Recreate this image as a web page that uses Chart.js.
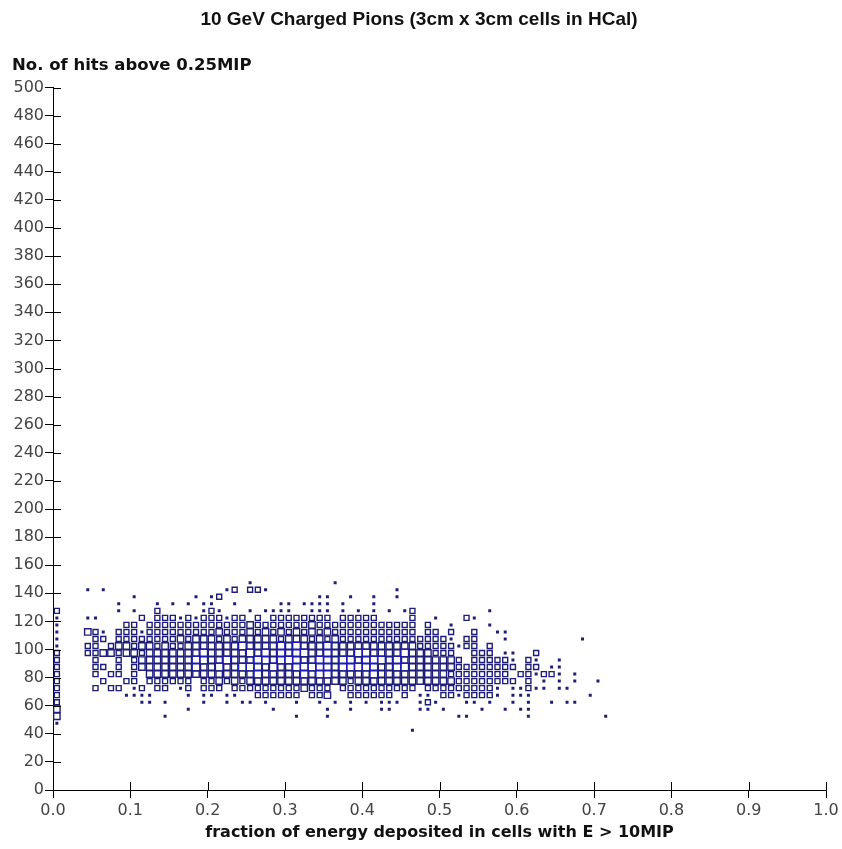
<!DOCTYPE html>
<html>
<head>
<meta charset="utf-8">
<script src="https://cdn.jsdelivr.net/npm/chart.js@4.4.1/dist/chart.umd.min.js"></script>
<style>
  html, body { margin: 0; padding: 0; background: #fff; }
  #c { display: block; }
</style>
</head>
<body>
<canvas id="c" width="842" height="849"></canvas>
<script>
// 2D histogram, bins of 0.01 (x) by 5 hits (y)
const xBinStart = 0.005;
const xBinWidth = 0.01;
const yBins = [147.5, 142.5, 137.5, 132.5, 127.5, 122.5, 117.5, 112.5, 107.5, 102.5, 97.5,
               92.5, 87.5, 82.5, 77.5, 72.5, 67.5, 62.5, 57.5, 52.5, 47.5, 42.5];

// relative bin content (0 = empty .. 4 = largest box), one char per x bin
const binRows = [
  "0000000000 0000000000 0000010000 0000001000 0000000000 0000000000 0000000000 00",
  "0000101000 0000000000 0012022100 0000000000 0000100000 0000000000 0000000000 00",
  "0000000000 1000000010 1200000000 0000110010 0100100000 0000000000 0000000000 00",
  "0000000010 0001010101 1001000001 1011110100 0100000000 0000000000 0000000000 00",
  "2000000010 1002000001 2100010111 1001110101 0101012000 0000001000 0000000000 00",
  "1000110000 0202221212 2212202022 2222220222 2200002001 0002100000 0000000000 00",
  "1000000002 2022222222 2222232222 2223222222 2222222020 0100001000 0000000000 00",
  "1000321022 2122222222 2322232323 2323232222 2222222022 0200200110 0000000000 00",
  "1000022022 2222223233 3232333332 3332323222 2222222222 2102200010 0000000010 00",
  "1000220233 2332322333 3333433334 3433343333 3333333222 2212202000 0000000000 00",
  "2000223323 3233333334 3333343434 3443343334 4333343332 2200222011 0020000000 00",
  "2000020020 2333333344 3343334434 4433443443 4443433333 3320222221 0210010000 00",
  "2000022020 2333333343 3433444343 3444443444 4433443333 3322222222 0220110000 00",
  "2000020220 2033333333 3333334333 3343443333 3433333333 3222222220 2212210100 00",
  "2000002002 2022222202 2323233333 3333333323 3333333333 3322222222 0201010100 10",
  "2000020220 1202201202 2202222222 2232220222 2222222022 2222222101 1211011000 00",
  "2000000001 1110000101 1011002222 2202230022 2222020110 2212222101 1100000001 00",
  "2000000000 0110100001 0010110100 0100101010 1011100121 0001101001 0100101100 00",
  "3000000000 0000000100 0000000010 0000010010 0011000110 1000010010 1100000000 00",
  "3000000000 0000100000 0000000000 0100010000 0000000000 0011000000 0100000000 01",
  "1000000000 0000000000 0000000000 0000000000 0000000000 0000000000 0000000000 00",
  "0000000000 0000000000 0000000000 0000000000 0000001000 0000000000 0000000000 00"
];

const titleText = '10 GeV Charged Pions (3cm x 3cm cells in HCal)';
const yTitle = 'No. of hits above 0.25MIP';
const xTitle = 'fraction of energy deposited in cells with E > 10MIP';

// build points from the rows
const points = [];
binRows.forEach((row, i) => {
  row.replace(/\s/g, '').split('').forEach((ch, k) => {
    const v = Number(ch);
    if (v > 0) points.push({ x: xBinStart + k * xBinWidth, y: yBins[i], v });
  });
});

// box side in px for each level
const sideFor = [0, 3, 5, 6.4, 7.6];
const boxColor = (v) => v >= 4 ? '#1c1cb4' : '#1e1e78';

const tickFont = { family: 'DejaVu Sans', size: 16 };
const tickColor = '#444';

// tick marks that cross the axis (inner half)
const crossTicks = {
  id: 'crossTicks',
  afterDraw(chart) {
    const { ctx, chartArea, scales: { x, y } } = chart;
    ctx.save();
    ctx.strokeStyle = '#000';
    ctx.lineWidth = 1;
    ctx.beginPath();
    x.ticks.forEach(t => {
      const px = Math.round(x.getPixelForValue(t.value)) + 0.5;
      ctx.moveTo(px, chartArea.bottom);
      ctx.lineTo(px, chartArea.bottom - 8);
    });
    y.ticks.forEach(t => {
      const py = Math.round(y.getPixelForValue(t.value)) + 0.5;
      ctx.moveTo(chartArea.left, py);
      ctx.lineTo(chartArea.left + 8, py);
    });
    ctx.stroke();
    ctx.restore();
  }
};

new Chart(document.getElementById('c'), {
  type: 'scatter',
  data: {
    datasets: [{
      data: points,
      pointStyle: 'rect',
      pointRadius: (c) => sideFor[c.raw ? c.raw.v : 0] / 1.4142,
      pointHoverRadius: (c) => sideFor[c.raw ? c.raw.v : 0] / 1.4142,
      borderWidth: (c) => (c.raw && c.raw.v === 1) ? 0 : 1.4,
      borderColor: (c) => boxColor(c.raw ? c.raw.v : 0),
      backgroundColor: (c) => (c.raw && c.raw.v === 1) ? '#1e1e78' : 'rgba(0,0,0,0)'
    }]
  },
  options: {
    responsive: false,
    animation: false,
    layout: { padding: { left: 12, right: 16, top: 0, bottom: 0 } },
    plugins: {
      legend: { display: false },
      tooltip: { enabled: false },
      title: {
        display: true,
        text: titleText,
        color: '#111',
        font: { family: 'Liberation Sans', size: 19, weight: 'bold' },
        padding: { top: 8.6, bottom: 13.6 }
      },
      subtitle: {
        display: true,
        text: yTitle,
        align: 'start',
        color: '#111',
        font: { family: 'DejaVu Sans', size: 16.5, weight: 'bold' },
        padding: { top: 10.5, bottom: 12.2 }
      }
    },
    scales: {
      x: {
        type: 'linear',
        min: 0,
        max: 1,
        ticks: { stepSize: 0.1, font: tickFont, color: tickColor, padding: 3,
                 maxRotation: 0, callback: v => Number(v).toFixed(1) },
        grid: { drawOnChartArea: false, drawTicks: true, tickLength: 8, color: '#000' },
        border: { color: '#000', width: 1 },
        title: { display: true, text: xTitle, color: '#111',
                 font: { family: 'DejaVu Sans', size: 16, weight: 'bold' }, padding: { top: 0, bottom: 6.4 } },
        afterFit: (s) => { s.height = 59; }
      },
      y: {
        type: 'linear',
        min: 0,
        max: 500,
        ticks: { stepSize: 20, font: tickFont, color: tickColor, padding: 1 },
        grid: { drawOnChartArea: false, drawTicks: true, tickLength: 8, color: '#000' },
        border: { color: '#000', width: 1 },
        afterFit: (s) => { s.width = 41; }
      }
    }
  },
  plugins: [crossTicks]
});
</script>
</body>
</html>
